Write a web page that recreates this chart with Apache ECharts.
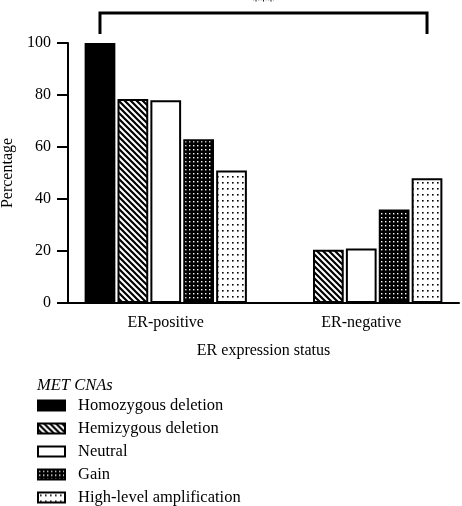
<!DOCTYPE html>
<html><head><meta charset="utf-8">
<script src="https://cdn.jsdelivr.net/npm/echarts@6/dist/echarts.min.js"></script>
<style>html,body{margin:0;padding:0;background:#fff}#c{width:462px;height:506px}</style>
</head><body><div id="c"></div>
<script>
const categories = ['ER-positive', 'ER-negative'];
const seriesNames = ['Homozygous deletion', 'Hemizygous deletion', 'Neutral', 'Gain', 'High-level amplification'];
const homozygous = [100, 0];
const hemizygous = [78.5, 20.5];
const neutral = [78, 21];
const gain = [63, 36];
const highLevel = [51, 48];
const yTicks = [0, 20, 40, 60, 80, 100];
const sigLabel = '***';
const sigLevels = [103.5, 111.5]; // bracket leg bottom / top (in % units)

const FONT = '"Liberation Serif", "DejaVu Serif", serif';

function makePattern(kind) {
  const c = document.createElement('canvas');
  const ctx = c.getContext('2d');
  if (kind === 'stripes') {
    c.width = 6; c.height = 6;
    ctx.fillStyle = '#fff'; ctx.fillRect(0, 0, 6, 6);
    ctx.strokeStyle = '#000'; ctx.lineWidth = 2.2;
    ctx.beginPath();
    for (let k = -2; k <= 2; k++) {
      ctx.moveTo(k * 6 - 1, -1); ctx.lineTo(k * 6 + 7, 7);
    }
    ctx.stroke();
  } else if (kind === 'gain') {
    c.width = 4; c.height = 4;
    ctx.fillStyle = '#000'; ctx.fillRect(0, 0, 4, 4);
    ctx.fillStyle = '#fff';
    ctx.fillRect(1, 1, 1.4, 1.4);
  } else if (kind === 'high') {
    c.width = 5; c.height = 6;
    ctx.fillStyle = '#fff'; ctx.fillRect(0, 0, 5, 6);
    ctx.fillStyle = '#000';
    ctx.fillRect(2, 2, 1.6, 1.6);
  }
  return { image: c, repeat: 'repeat' };
}

const fills = ['#000', makePattern('stripes'), '#fff', makePattern('gain'), makePattern('high')];
const dataSets = [homozygous, hemizygous, neutral, gain, highLevel];

const chart = echarts.init(document.getElementById('c'), null, { renderer: 'canvas' });

const series = dataSets.map((d, i) => ({
  name: seriesNames[i],
  type: 'bar',
  data: d,
  barGap: '7%',
  barCategoryGap: '17%',
  itemStyle: { color: fills[i], borderColor: '#000', borderWidth: 2 },
  emphasis: { disabled: true },
  animation: false
}));

chart.setOption({
  animation: false,
  textStyle: { fontFamily: FONT },
  grid: { left: 68, right: 3, top: 43, bottom: 203, containLabel: false, outerBoundsMode: 'none' },
  xAxis: {
    type: 'category',
    data: categories,
    axisLine: { lineStyle: { color: '#000', width: 2 } },
    axisTick: { show: false },
    axisLabel: { color: '#000', fontSize: 16, fontFamily: FONT, margin: 12 },
    name: 'ER expression status',
    nameLocation: 'middle',
    nameGap: 40,
    nameTextStyle: { color: '#000', fontSize: 16, fontFamily: FONT }
  },
  yAxis: {
    type: 'value',
    min: 0, max: 100, interval: 20,
    axisLine: { show: true, lineStyle: { color: '#000', width: 2 } },
    axisTick: { show: true, length: 11, lineStyle: { color: '#000', width: 2 } },
    axisLabel: { color: '#000', fontSize: 16, fontFamily: FONT, margin: 17,
      formatter: v => yTicks.includes(v) ? String(v) : '' },
    splitLine: { show: false },
    name: 'Percentage',
    nameLocation: 'middle',
    nameGap: 51,
    nameTextStyle: { color: '#000', fontSize: 16, fontFamily: FONT }
  },
  legend: {
    orient: 'vertical',
    left: 37, top: 397,
    padding: 0,
    height: 120,
    itemWidth: 27, itemHeight: 10, itemGap: 6,
    icon: 'rect',
    data: seriesNames,
    textStyle: { color: '#000', fontSize: 16.5, lineHeight: 15, fontFamily: FONT, padding: [0, 0, 0, 8] },
    selectedMode: false
  },
  title: {
    text: 'MET CNAs',
    left: 32, top: 372,
    textStyle: { fontStyle: 'italic', fontWeight: 'normal', color: '#000', fontSize: 16.5, fontFamily: FONT }
  },
  series: series
});

function drawBracket() {
  const model = chart.getModel();
  const l1 = model.getSeriesByIndex(0).getData().getItemLayout(0);
  const l2 = model.getSeriesByIndex(4).getData().getItemLayout(1);
  const x1 = l1.x + l1.width / 2;
  const x2 = l2.x + l2.width / 2;
  const yLow = chart.convertToPixel({ yAxisIndex: 0 }, sigLevels[0]);
  const yTop = chart.convertToPixel({ yAxisIndex: 0 }, sigLevels[1]);
  chart.setOption({
    graphic: [
      { type: 'polyline', shape: { points: [[x1, yLow], [x1, yTop], [x2, yTop], [x2, yLow]] },
        style: { stroke: '#000', lineWidth: 3, fill: null }, silent: true },
      { type: 'text', x: (x1 + x2) / 2, y: yTop - 4,
        style: { text: sigLabel, fill: '#000', font: '15px ' + FONT, align: 'center', verticalAlign: 'bottom' }, silent: true }
    ]
  });
}
drawBracket();
</script>
</body></html>
